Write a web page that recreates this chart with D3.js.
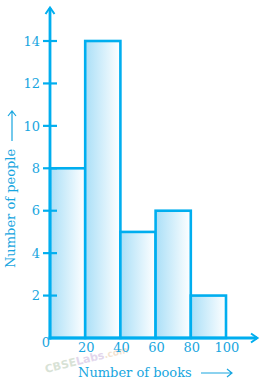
<!DOCTYPE html>
<html>
<head>
<meta charset="utf-8">
<script src="https://cdn.jsdelivr.net/npm/d3@7"></script>
<style>
  html, body { margin: 0; padding: 0; background: #ffffff; }
  svg { display: block; }
</style>
</head>
<body>
<svg id="hist"></svg>
<script>
// class intervals (number of books) and frequencies (number of people)
const binEdges = [0, 20, 40, 60, 80, 100];
const counts = [8, 14, 5, 6, 2];
const yTicks = [2, 4, 6, 8, 10, 12, 14];
const xTicks = [20, 40, 60, 80, 100];

(function(){
  let width = 265, height = 387;
  let blue = '#00aeef', textBlue = '#18a6e0';
  let font = 'DejaVu Serif, serif';

  let svg = d3.select('svg#hist')
      .attr('width', width)
      .attr('height', height);

  let x = d3.scaleLinear().domain([0, 100]).range([50, 226]);
  let y = d3.scaleLinear().domain([0, 14]).range([338, 41]);

  let defs = svg.append('defs');
  let grad = defs.append('linearGradient')
      .attr('id', 'barfill')
      .attr('x1', '0%').attr('x2', '100%')
      .attr('y1', '0%').attr('y2', '0%');
  grad.append('stop').attr('offset', '0%').attr('stop-color', '#aadff7');
  grad.append('stop').attr('offset', '100%').attr('stop-color', '#ffffff');

  let bins = counts.map((c, i) => ({x0: binEdges[i], x1: binEdges[i + 1], value: c}));

  // faint watermark under the axis labels
  let wm = svg.append('text')
      .attr('transform', 'translate(46,373) rotate(-14)')
      .attr('font-family', 'DejaVu Sans, sans-serif')
      .attr('font-weight', 'bold')
      .attr('font-size', 11)
      .attr('opacity', 0.4);
  wm.append('tspan').attr('fill', '#9fb79a').text('CBSE');
  wm.append('tspan').attr('fill', '#b79ad0').text('Labs');
  wm.append('tspan').attr('fill', '#e3b98c').attr('font-size', 9).text('.com');

  svg.append('g')
      .attr('class', 'bars')
    .selectAll('rect')
    .data(bins)
    .enter().append('rect')
      .attr('x', d => x(d.x0))
      .attr('y', d => y(d.value))
      .attr('width', d => x(d.x1) - x(d.x0))
      .attr('height', d => y(0) - y(d.value))
      .attr('fill', 'url(#barfill)')
      .attr('stroke', blue)
      .attr('stroke-width', 2.6);

  // axes with open arrowheads
  let axes = svg.append('g')
      .attr('fill', 'none')
      .attr('stroke', blue)
      .attr('stroke-width', 2.8)
      .attr('stroke-linecap', 'butt');

  axes.append('line')
      .attr('x1', x(0)).attr('x2', x(0))
      .attr('y1', y(0) + 1.5).attr('y2', 8);
  axes.append('path')
      .attr('stroke-width', 2)
      .attr('d', `M${x(0) - 4.5},14 L${x(0)},7.5 L${x(0) + 4.5},14`);

  axes.append('line')
      .attr('x1', x(0) - 1.5).attr('x2', 257)
      .attr('y1', y(0)).attr('y2', y(0));
  axes.append('path')
      .attr('stroke-width', 2)
      .attr('d', `M251,${y(0) - 4.5} L257.5,${y(0)} L251,${y(0) + 4.5}`);

  // y ticks
  axes.selectAll('line.ytick')
    .data(yTicks)
    .enter().append('line')
      .attr('class', 'ytick')
      .attr('x1', 43).attr('x2', 57)
      .attr('y1', d => y(d)).attr('y2', d => y(d))
      .attr('stroke-width', 2.2);

  let labels = svg.append('g')
      .attr('fill', textBlue)
      .attr('font-family', font)
      .attr('font-size', 13);

  labels.selectAll('text.ylab')
    .data(yTicks)
    .enter().append('text')
      .attr('class', 'ylab')
      .attr('x', 40)
      .attr('y', d => y(d))
      .attr('dy', '0.36em')
      .attr('text-anchor', 'end')
      .text(d => d);

  labels.selectAll('text.xlab')
    .data(xTicks)
    .enter().append('text')
      .attr('class', 'xlab')
      .attr('x', d => x(d) + 1)
      .attr('y', 352)
      .attr('text-anchor', 'middle')
      .text(d => d);

  labels.append('text')
      .attr('x', 46)
      .attr('y', 347)
      .attr('text-anchor', 'middle')
      .text('0');

  // axis titles
  labels.append('text')
      .attr('x', 78)
      .attr('y', 377)
      .text('Number of books');

  labels.append('text')
      .attr('transform', 'translate(15,268) rotate(-90)')
      .text('Number of people');

  let arrows = svg.append('g')
      .attr('fill', 'none')
      .attr('stroke', textBlue)
      .attr('stroke-width', 1.2);
  arrows.append('path').attr('d', 'M201,373 L232,373 M227,369 L232,373 L227,377');
  arrows.append('path').attr('d', 'M12,141 L12,111 M8,116 L12,111 L16,116');
})();
</script>
</body>
</html>
